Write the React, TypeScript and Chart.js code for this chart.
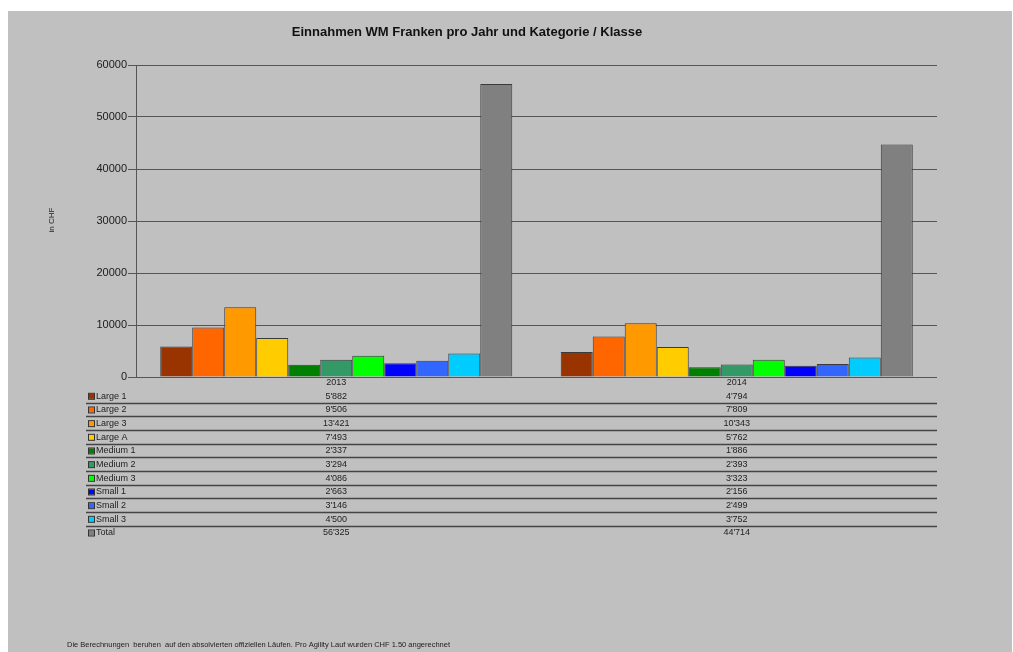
import React, { useEffect, useRef } from "react";
import { Chart, registerables } from "chart.js";

Chart.register(...registerables);

const years = ["2013", "2014"];
const seriesNames = ["Large 1", "Large 2", "Large 3", "Large A", "Medium 1", "Medium 2", "Medium 3", "Small 1", "Small 2", "Small 3", "Total"];
const seriesColors = ["#993300", "#FF6600", "#FF9900", "#FFCC00", "#008000", "#339966", "#00FF00", "#0000FF", "#3366FF", "#00CCFF", "#808080"];
const large1 = [5882, 4794];
const large2 = [9506, 7809];
const large3 = [13421, 10343];
const largeA = [7493, 5762];
const medium1 = [2337, 1886];
const medium2 = [3294, 2393];
const medium3 = [4086, 3323];
const small1 = [2663, 2156];
const small2 = [3146, 2499];
const small3 = [4500, 3752];
const total = [56325, 44714];
const seriesValues = [large1, large2, large3, largeA, medium1, medium2, medium3, small1, small2, small3, total];
const yMax = 60000;
const yStep = 10000;
const titleText = "Einnahmen WM Franken pro Jahr und Kategorie / Klasse";
const yTitleText = "in CHF";
const footerText = "Die Berechnungen  beruhen  auf den absolvierten offiziellen Läufen. Pro Agility Lauf wurden CHF 1.50 angerechnet";

const fmt = (n: number) => String(n).replace(/\B(?=(\d{3})+(?!\d))/g, "'");

const FONT = "Arial, 'Liberation Sans', sans-serif";

const overlayPlugin = {
  id: "overlay",
  afterDraw(chart: any) {
    const ctx = chart.ctx as CanvasRenderingContext2D;
    const xScale = chart.scales.x;
    const area = chart.chartArea;
    ctx.save();
    // title
    ctx.fillStyle = "#111";
    ctx.font = `bold 13px ${FONT}`;
    ctx.textAlign = "center";
    ctx.textBaseline = "middle";
    ctx.fillText(titleText, 459, 21);
    // y title
    ctx.save();
    ctx.translate(44, 209);
    ctx.rotate(-Math.PI / 2);
    ctx.font = `8px ${FONT}`;
    ctx.fillStyle = "#222";
    ctx.fillText(yTitleText, 0, 0);
    ctx.restore();
    // footer
    ctx.font = `7.5px ${FONT}`;
    ctx.textAlign = "left";
    ctx.fillStyle = "#222";
    ctx.fillText(footerText, 59, 634);
    // table header
    const rowH = 13.67;
    const headerY = area.bottom + 6;
    const firstRowY = area.bottom + 19.3;
    ctx.font = `9px ${FONT}`;
    ctx.fillStyle = "#222";
    ctx.textAlign = "center";
    years.forEach((y, j) => {
      ctx.fillText(y, xScale.getPixelForValue(j), headerY);
    });
    // rows
    seriesNames.forEach((name, i) => {
      const cy = firstRowY + i * rowH;
      ctx.fillStyle = seriesColors[i];
      ctx.fillRect(81, cy - 2.5, 5, 5);
      ctx.strokeStyle = "#333";
      ctx.lineWidth = 1;
      ctx.strokeRect(80.5, cy - 3, 6, 6);
      ctx.fillStyle = "#222";
      ctx.textAlign = "left";
      ctx.font = `9px ${FONT}`;
      ctx.fillText(name, 88, cy);
      ctx.textAlign = "center";
      seriesValues[i].forEach((v, j) => {
        ctx.fillText(fmt(v), xScale.getPixelForValue(j), cy);
      });
      if (i < seriesNames.length - 1) {
        const ly = Math.round(cy + 6.4) + 0.5;
        ctx.strokeStyle = "#444";
        ctx.lineWidth = 1.5;
        ctx.beginPath();
        ctx.moveTo(78, ly);
        ctx.lineTo(area.right, ly);
        ctx.stroke();
      }
    });
    ctx.restore();
  },
};

export default function App() {
  const ref = useRef<HTMLCanvasElement | null>(null);
  useEffect(() => {
    if (!ref.current) return;
    const chart = new Chart(ref.current, {
      type: "bar",
      data: {
        labels: years,
        datasets: seriesNames.map((name, i) => ({
          label: name,
          data: seriesValues[i],
          backgroundColor: seriesColors[i],
          borderColor: "#3a3a3a",
          borderWidth: 1,
          categoryPercentage: 0.879,
          barPercentage: 1,
        })),
      },
      options: {
        animation: false,
        responsive: false,
        devicePixelRatio: 1,
        layout: { padding: { left: 0, right: 75, top: 54, bottom: 275 } },
        plugins: {
          legend: { display: false },
          title: { display: false },
          tooltip: { enabled: false },
        },
        scales: {
          x: { display: false },
          y: {
            min: 0,
            max: yMax,
            afterFit: (scale: any) => {
              scale.width = 128;
            },
            ticks: {
              stepSize: yStep,
              padding: 1,
              color: "#1a1a1a",
              font: { family: FONT, size: 11 },
              callback: (v: any) => String(v),
            },
            grid: {
              color: "#555",
              lineWidth: 1,
              tickLength: 8,
              drawTicks: true,
            },
            border: { display: true, color: "#555", width: 1 },
          },
        },
      },
      plugins: [overlayPlugin],
    });
    return () => chart.destroy();
  }, []);
  return (
    <div style={{ position: "absolute", left: 8, top: 11, width: 1004, height: 641, background: "#C0C0C0" }}>
      <canvas ref={ref} width={1004} height={641} style={{ width: 1004, height: 641, display: "block" }} />
    </div>
  );
}
